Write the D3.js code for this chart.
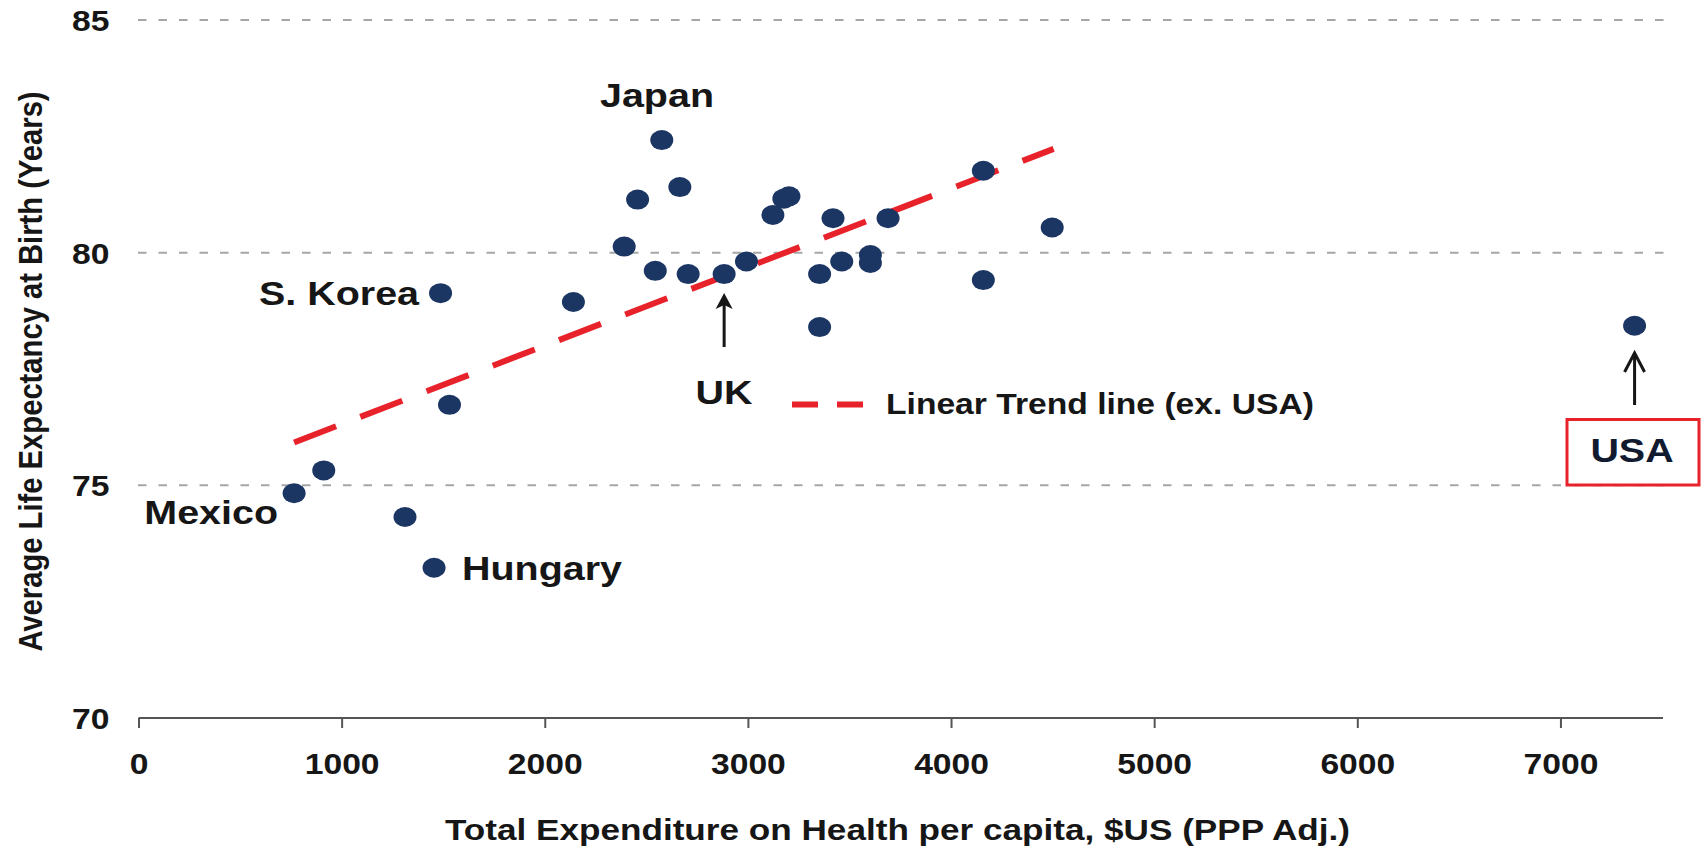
<!DOCTYPE html>
<html>
<head>
<meta charset="utf-8">
<script src="https://cdn.jsdelivr.net/npm/d3@7/dist/d3.min.js"></script>
<style>
  html, body { margin: 0; padding: 0; background: #fff; }
  svg { display: block; font-family: "Liberation Sans", Arial, sans-serif; font-weight: bold; }
</style>
</head>
<body>
<svg id="chart" width="1704" height="846"></svg>
<script>
(function () {
  "use strict";

  // health spend per head ($US PPP) and life expectancy, one entry per country
  var spend = [766, 912, 1312, 1455, 1487, 1531, 2141, 2391, 2457, 2576, 2544, 2665, 2706, 2883, 2993,
    3123, 3177, 3202, 3353, 3353, 3419, 3462, 3603, 3603, 3690, 4159, 4159, 4498, 7365];
  var lifeExp = [74.83, 75.32, 74.32, 73.23, 79.13, 76.73, 78.94, 80.13, 81.14, 82.42, 79.61, 81.41, 79.54, 79.54, 79.81,
    80.81, 81.16, 81.21, 79.54, 78.40, 80.74, 79.81, 79.95, 79.78, 80.74, 81.76, 79.41, 80.54, 78.43];

  // linear trend line (ex. USA), end points
  var trendSpend = [766, 4505];
  var trendLife = [75.92, 82.23];

  var xTicks = [0, 1000, 2000, 3000, 4000, 5000, 6000, 7000];
  var yTicks = [70, 75, 80, 85];

  var SX = 1.16; // the source chart is stretched sideways
  var ink = "#161616";
  var navy = "#1c3664";
  var red = "#e8222a";

  var svg = d3.select("#chart");
  var x = d3.scaleLinear().domain([0, 7500]).range([138.5, 1662]);
  var y = d3.scaleLinear().domain([70, 85]).range([718, 20]);

  function label(px, py, text, size, anchor, color) {
    return svg.append("text")
      .attr("transform", "translate(" + px + "," + py + ") scale(" + SX + ",1)")
      .attr("text-anchor", anchor || "start")
      .attr("font-size", size)
      .attr("fill", color || ink)
      .text(text);
  }

  // dashed grid lines
  svg.append("g").selectAll("line")
    .data(yTicks.filter(function (t) { return t > 70; }))
    .join("line")
    .attr("x1", 138).attr("x2", 1664)
    .attr("y1", function (t) { return y(t); })
    .attr("y2", function (t) { return y(t); })
    .attr("stroke", "#a6a6a6")
    .attr("stroke-width", 2)
    .attr("stroke-dasharray", "8.5,12");

  // x axis
  var xAxis = svg.append("g")
    .attr("transform", "translate(0," + y(70) + ")")
    .call(d3.axisBottom(x).tickValues(xTicks).tickSize(10).tickPadding(0).tickFormat(d3.format("d")));
  xAxis.select(".domain").attr("d", "M" + x(0) + ",0H1663").attr("stroke", "#555").attr("stroke-width", 2);
  xAxis.selectAll(".tick line").attr("stroke", "#555").attr("stroke-width", 2);
  xAxis.selectAll(".tick text")
    .attr("y", 56).attr("dy", null)
    .attr("transform", "scale(" + SX + ",1)")
    .attr("font-size", 29).attr("font-weight", "bold")
    .attr("font-family", "Liberation Sans, Arial, sans-serif")
    .attr("fill", ink);

  // y tick labels (no axis line)
  var yAxis = svg.append("g")
    .attr("transform", "translate(109.5,0)")
    .call(d3.axisLeft(y).tickValues(yTicks).tickSize(0).tickPadding(0).tickFormat(d3.format("d")));
  yAxis.select(".domain").remove();
  yAxis.selectAll(".tick text")
    .attr("x", 0).attr("dy", "0.36em")
    .attr("transform", "scale(" + SX + ",1)")
    .attr("font-size", 29).attr("font-weight", "bold")
    .attr("font-family", "Liberation Sans, Arial, sans-serif")
    .attr("fill", ink);

  // axis titles
  svg.append("text")
    .attr("transform", "translate(42,371.5) scale(" + SX + ",1) rotate(-90)")
    .attr("text-anchor", "middle")
    .attr("font-size", 29.2)
    .attr("fill", ink)
    .text("Average Life Expectancy at Birth (Years)");
  label(897.5, 839.5, "Total Expenditure on Health per capita, $US (PPP Adj.)", 30.3, "middle");

  // trend line
  svg.append("line")
    .attr("x1", x(trendSpend[0])).attr("y1", y(trendLife[0]))
    .attr("x2", x(trendSpend[1])).attr("y2", y(trendLife[1]))
    .attr("stroke", red)
    .attr("stroke-width", 6)
    .attr("stroke-dasharray", "45,26");

  // points
  svg.append("g").selectAll("ellipse")
    .data(d3.range(spend.length))
    .join("ellipse")
    .attr("cx", function (i) { return x(spend[i]); })
    .attr("cy", function (i) { return y(lifeExp[i]); })
    .attr("rx", 11.5)
    .attr("ry", 10)
    .attr("fill", navy);

  // legend
  svg.append("line")
    .attr("x1", 792).attr("x2", 863).attr("y1", 404.5).attr("y2", 404.5)
    .attr("stroke", red).attr("stroke-width", 6).attr("stroke-dasharray", "26,19");
  label(886, 413.5, "Linear Trend line (ex. USA)", 29, "start");

  // country labels
  label(657, 107, "Japan", 34, "middle");
  label(419, 305, "S. Korea", 34, "end");
  label(278, 524, "Mexico", 34, "end");
  label(462, 580, "Hungary", 34, "start");
  label(724, 404, "UK", 34, "middle");

  // UK arrow
  var ukX = x(2883);
  svg.append("line")
    .attr("x1", ukX).attr("x2", ukX).attr("y1", 347).attr("y2", 300)
    .attr("stroke", ink).attr("stroke-width", 3);
  svg.append("path")
    .attr("d", "M" + ukX + ",293 L" + (ukX + 8.5) + ",309 L" + ukX + ",305 L" + (ukX - 8.5) + ",309 Z")
    .attr("fill", ink);

  // USA arrow and boxed label
  var usX = x(7365);
  svg.append("line")
    .attr("x1", usX).attr("x2", usX).attr("y1", 405).attr("y2", 353)
    .attr("stroke", ink).attr("stroke-width", 3);
  svg.append("path")
    .attr("d", "M" + (usX - 10) + ",372 L" + usX + ",353 L" + (usX + 10) + ",372")
    .attr("fill", "none").attr("stroke", ink).attr("stroke-width", 3);
  svg.append("rect")
    .attr("x", 1567).attr("y", 419.5).attr("width", 132).attr("height", 65.5)
    .attr("fill", "#fff").attr("stroke", red).attr("stroke-width", 3);
  label(1632, 462, "USA", 34, "middle", "#111a2e");
})();
</script>
</body>
</html>
